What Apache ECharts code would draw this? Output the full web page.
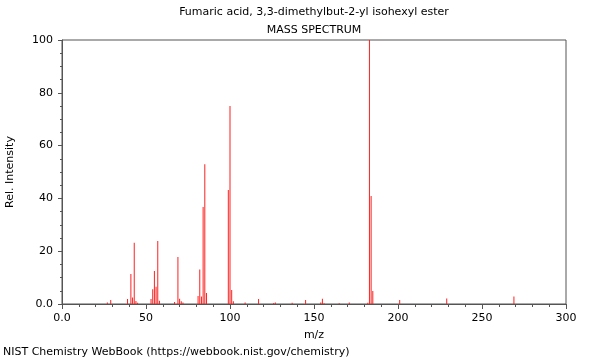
<!DOCTYPE html>
<html>
<head>
<meta charset="utf-8">
<script src="https://cdn.jsdelivr.net/npm/echarts@6/dist/echarts.min.js"></script>
<style>
html,body{margin:0;padding:0;background:#fff;}
#c{width:600px;height:360px;}
</style>
</head>
<body>
<div id="c"></div>
<script>
const titleLine1 = 'Fumaric acid, 3,3-dimethylbut-2-yl isohexyl ester';
const titleLine2 = 'MASS SPECTRUM';
const xName = 'm/z';
const yName = 'Rel. Intensity';
const footer = 'NIST Chemistry WebBook (https://webbook.nist.gov/chemistry)';

const mz = [27, 29, 39, 41, 42, 43, 44, 45, 53, 54, 55, 56, 57, 58, 67, 69, 70, 71, 72,
            81, 82, 83, 84, 85, 86, 99, 100, 101, 102, 109, 117, 126, 127, 137, 145,
            154, 155, 156, 165, 171, 182, 183, 184, 185, 201, 229, 269];
const intensity = [0.6, 1.5, 1.9, 11.4, 2.5, 23.2, 1.1, 0.5, 1.9, 5.6, 12.5, 6.5, 23.9, 1.2, 0.8, 17.8, 2.0, 1.0, 0.6,
                   3.0, 13.1, 2.8, 36.7, 52.9, 4.2, 43.2, 75.0, 5.3, 1.0, 0.6, 1.9, 0.4, 0.6, 0.5, 1.5,
                   0.6, 2.0, 0.3, 0.3, 0.6, 0.5, 100, 40.9, 4.9, 1.5, 2.1, 2.8];

const data = mz.map((m, i) => [m, intensity[i]]);
const font = 'DejaVu Sans';

const chart = echarts.init(document.getElementById('c'), null, {renderer: 'canvas'});
chart.setOption({
  animation: false,
  backgroundColor: '#fff',
  grid: {left: 62, right: 34, top: 40, bottom: 56, containLabel: false, outerBoundsMode: 'none',
         show: true, borderColor: '#555', borderWidth: 1, backgroundColor: 'transparent'},
  xAxis: {
    type: 'value', min: 0, max: 300, interval: 50,
    name: xName, nameLocation: 'middle', nameGap: 26,
    nameTextStyle: {fontFamily: font, fontSize: 11, color: '#000'},
    axisLine: {show: true, lineStyle: {color: '#555', width: 1}},
    axisTick: {show: true, length: 5, lineStyle: {color: '#555'}},
    minorTick: {show: true, splitNumber: 5, length: 3, lineStyle: {color: '#555'}},
    splitLine: {show: false},
    axisLabel: {fontFamily: font, fontSize: 11, color: '#000', margin: 9,
      formatter: v => v === 0 ? '0.0' : String(v)}
  },
  yAxis: {
    type: 'value', min: 0, max: 100, interval: 20,
    name: yName, nameLocation: 'middle', nameGap: 46,
    nameTextStyle: {fontFamily: font, fontSize: 11, color: '#000'},
    axisLine: {show: true, lineStyle: {color: '#555', width: 1}},
    axisTick: {show: true, length: 4, lineStyle: {color: '#555'}},
    minorTick: {show: true, splitNumber: 4, length: 2, lineStyle: {color: '#555'}},
    splitLine: {show: false},
    axisLabel: {fontFamily: font, fontSize: 11, color: '#000', margin: 9,
      formatter: v => v === 0 ? '0.0' : String(v)}
  },
  graphic: [
    {type: 'text', x: 314, y: 7, style: {text: titleLine1, fontFamily: font, fontSize: 11, fill: '#000', align: 'center', textAlign: 'center'}},
    {type: 'text', x: 314, y: 25, style: {text: titleLine2, fontFamily: font, fontSize: 11, fill: '#000', align: 'center', textAlign: 'center'}},
    {type: 'text', x: 3, y: 347, style: {text: footer, fontFamily: font, fontSize: 11, fill: '#000'}}
  ],
  series: [{
    type: 'bar',
    data: data,
    barWidth: 1,
    itemStyle: {color: '#ff2020'},
    silent: true
  }]
});
</script>
</body>
</html>
